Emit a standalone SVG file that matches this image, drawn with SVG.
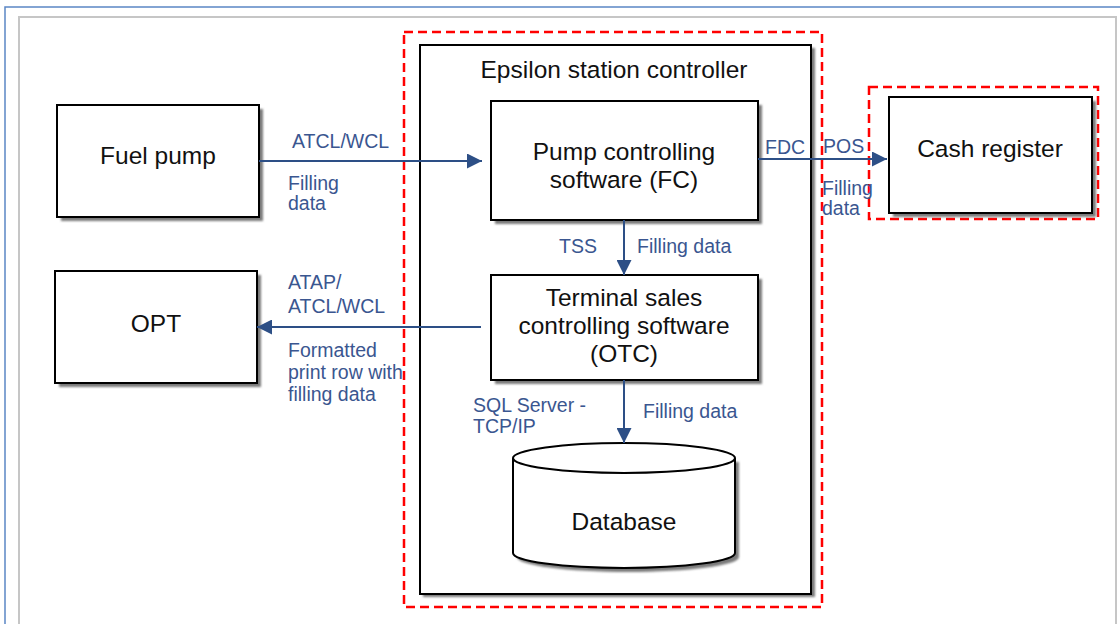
<svg xmlns="http://www.w3.org/2000/svg" width="1120" height="624" viewBox="0 0 1120 624">
<style>
.box{fill:#fff;stroke:#000;stroke-width:2}
.shadow{fill:#7a7a7a;filter:url(#blur)}
.red{fill:none;stroke:#ff0000;stroke-width:2.5;stroke-dasharray:9 5}
.conn{stroke:#2d4f86;stroke-width:2;fill:none}
.t{font-family:"Liberation Sans",Arial,sans-serif;font-size:24.5px;fill:#111;text-anchor:middle}
.lbl{font-family:"Liberation Sans",Arial,sans-serif;font-size:19.5px;fill:#3a5690}
</style>
<defs>
<filter id="blur" x="-5%" y="-5%" width="110%" height="110%"><feGaussianBlur stdDeviation="1.2"/></filter>
<marker id="arr" viewBox="0 0 10 10" refX="10" refY="5" markerWidth="7.5" markerHeight="7.5" orient="auto" markerUnits="strokeWidth">
<path d="M0,0 L10,5 L0,10 z" fill="#2d4f86"/>
</marker>
</defs>
<rect width="1120" height="624" fill="#fff"/>
<path d="M5,624 V7 H1120" fill="none" stroke="#5b86c5" stroke-width="1.5"/>
<path d="M19,624 V17 H1116 V624" fill="none" stroke="#c6c6c6" stroke-width="2"/>

<rect class="red" x="404" y="32" width="418" height="575"/>
<rect class="red" x="869" y="87" width="229" height="132"/>

<g id="epsilon">
<rect class="shadow" x="423" y="48" width="392" height="549"/>
<rect class="box" x="420" y="45" width="391" height="549"/>
<text class="t" x="614" y="78" font-size="26.5">Epsilon station controller</text>
</g>

<g id="fuel-pump">
<rect class="shadow" x="61" y="109" width="202" height="112"/>
<rect class="box" x="57" y="105" width="202" height="112"/>
<text class="t" x="158" y="164">Fuel pump</text>
</g>

<g id="opt">
<rect class="shadow" x="59" y="275" width="202" height="112"/>
<rect class="box" x="55" y="271" width="202" height="112"/>
<text class="t" x="156" y="332">OPT</text>
</g>

<g id="fc">
<rect class="shadow" x="495" y="105" width="267" height="119"/>
<rect class="box" x="491" y="101" width="267" height="119"/>
<text class="t" x="624" y="160">Pump controlling</text>
<text class="t" x="624" y="188">software (FC)</text>
</g>

<g id="otc">
<rect class="shadow" x="495" y="279" width="267" height="105"/>
<rect class="box" x="491" y="275" width="267" height="105"/>
<text class="t" x="624" y="306">Terminal sales</text>
<text class="t" x="624" y="334">controlling software</text>
<text class="t" x="624" y="362">(OTC)</text>
</g>

<g id="cash-register">
<rect class="shadow" x="893" y="101" width="203" height="116"/>
<rect class="box" x="889" y="97" width="203" height="116"/>
<text class="t" x="990" y="157">Cash register</text>
</g>

<g id="database">
<path d="M517,462 V557 A111,15 0 0 0 739,557 V462" fill="#7a7a7a" filter="url(#blur)"/>
<path d="M513,458 V553 A111,15 0 0 0 735,553 V458 A111,15 0 0 0 513,458 z" fill="#fff" stroke="#000" stroke-width="2"/>
<path d="M513,458 A111,15 0 0 0 735,458" fill="none" stroke="#000" stroke-width="2"/>
<text class="t" x="624" y="530">Database</text>
</g>

<g id="connectors">
<line class="conn" x1="259" y1="161" x2="482" y2="161" marker-end="url(#arr)"/>
<line class="conn" x1="758" y1="159" x2="887" y2="159" marker-end="url(#arr)"/>
<line class="conn" x1="624" y1="220" x2="624" y2="275" marker-end="url(#arr)"/>
<line class="conn" x1="481" y1="327" x2="257" y2="327" marker-end="url(#arr)"/>
<line class="conn" x1="624" y1="380" x2="624" y2="443" marker-end="url(#arr)"/>
</g>

<g id="labels">
<text class="lbl" x="292" y="148">ATCL/WCL</text>
<text class="lbl" x="288" y="190">Filling</text>
<text class="lbl" x="288" y="210">data</text>
<text class="lbl" x="765" y="154">FDC</text>
<text class="lbl" x="823" y="153">POS</text>
<text class="lbl" x="822" y="195">Filling</text>
<text class="lbl" x="822" y="215">data</text>
<text class="lbl" x="559" y="253">TSS</text>
<text class="lbl" x="637" y="253">Filling data</text>
<text class="lbl" x="288" y="289">ATAP/</text>
<text class="lbl" x="288" y="313">ATCL/WCL</text>
<text class="lbl" x="288" y="357">Formatted</text>
<text class="lbl" x="288" y="379">print row with</text>
<text class="lbl" x="288" y="401">filling data</text>
<text class="lbl" x="473" y="412">SQL Server -</text>
<text class="lbl" x="473" y="433">TCP/IP</text>
<text class="lbl" x="643" y="418">Filling data</text>
</g>
</svg>
